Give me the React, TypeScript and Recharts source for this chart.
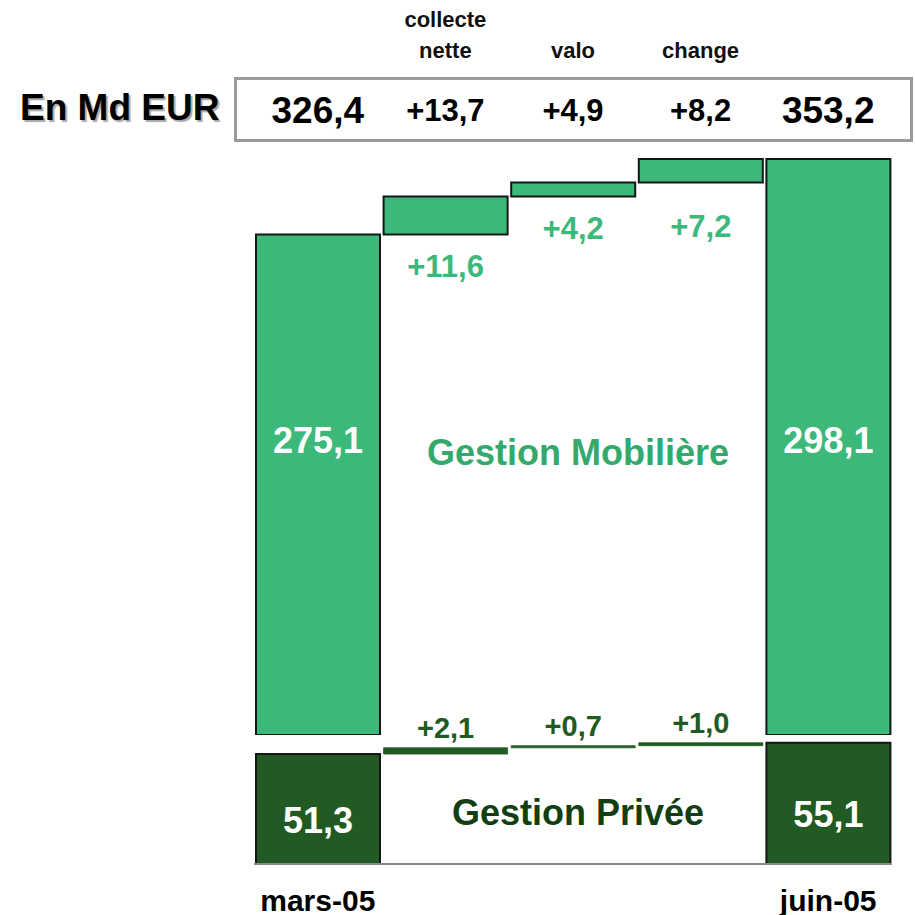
import React from 'react';
import { BarChart, Bar, XAxis, YAxis, Cell, LabelList } from 'recharts';

const categories = ['mars-05', 'collecte nette', 'valo', 'change', 'juin-05'];
const columnTitles = [[], ['collecte', 'nette'], ['valo'], ['change'], []];
const totalRow = [326.4, 13.7, 4.9, 8.2, 353.2];
const mobiliere = [275.1, 11.6, 4.2, 7.2, 298.1];
const privee = [51.3, 2.1, 0.7, 1.0, 55.1];
const isTotal = [true, false, false, false, true];

const LIGHT = '#3cb97a';
const DARK = '#215a22';
const EDGE = '#161616';
const FONT = '"Liberation Sans", Arial, sans-serif';

const fmt = (v: number, signed: boolean) => (signed ? '+' : '') + v.toFixed(1).replace('.', ',');

// waterfall: totals stand on the axis break, deltas float on the running sum
const waterfall = (values: number[]) => {
  let run = 0;
  return values.map((v, i) => {
    if (isTotal[i]) {
      run = v;
      return v;
    }
    const range = [run, run + v];
    run += v;
    return range;
  });
};

const gmBars = waterfall(mobiliere);
const gpBars = waterfall(privee);
const data = categories.map((name, i) => ({ name, gm: gmBars[i], gp: gpBars[i] }));

const box = (p: any) => {
  const vb = p.viewBox ?? p;
  return { x: vb.x, y: vb.y, w: vb.width, h: vb.height };
};

const HeaderTick = (props: any) => {
  const { x, y, index } = props;
  const titles = columnTitles[index];
  const total = isTotal[index];
  return (
    <g fontFamily={FONT} fontWeight="bold" textAnchor="middle">
      {titles.map((t, k) => (
        <text key={t} x={x} y={y - 102 - (titles.length - 1 - k) * 31} dominantBaseline="central" fontSize={22} fill="#111">
          {t}
        </text>
      ))}
      <text x={x} y={y - 42} dominantBaseline="central" fontSize={total ? 37 : 31} fill="#000">
        {fmt(totalRow[index], !total)}
      </text>
    </g>
  );
};

const DateTick = (props: any) => {
  const { x, y, index } = props;
  if (!isTotal[index]) return <g />;
  return (
    <text x={x} y={y + 36} textAnchor="middle" dominantBaseline="central" fontFamily={FONT} fontWeight="bold" fontSize={30} fill="#000">
      {categories[index]}
    </text>
  );
};

const gmLabel = (props: any) => {
  const { x, y, w, h } = box(props);
  const i = props.index;
  const cx = x + w / 2;
  const bottom = y + h;
  if (isTotal[i]) {
    return (
      <text x={cx} y={bottom - 295} textAnchor="middle" dominantBaseline="central" fontFamily={FONT} fontWeight="bold" fontSize={36} fill="#fff">
        {fmt(mobiliere[i], false)}
      </text>
    );
  }
  return (
    <text x={cx} y={Math.max(bottom + 32, 226)} textAnchor="middle" dominantBaseline="central" fontFamily={FONT} fontWeight="bold" fontSize={31} fill={LIGHT}>
      {fmt(mobiliere[i], true)}
    </text>
  );
};

const gpLabel = (props: any) => {
  const { x, y, w, h } = box(props);
  const i = props.index;
  const cx = x + w / 2;
  if (isTotal[i]) {
    return (
      <text x={cx} y={y + h / 2 + 11} textAnchor="middle" dominantBaseline="central" fontFamily={FONT} fontWeight="bold" fontSize={36} fill="#fff">
        {fmt(privee[i], false)}
      </text>
    );
  }
  return (
    <text x={cx} y={y - 20} textAnchor="middle" dominantBaseline="central" fontFamily={FONT} fontWeight="bold" fontSize={29} fill={DARK}>
      {fmt(privee[i], true)}
    </text>
  );
};

const seriesName = (text: string, color: string, cy: number) => (
  <div
    style={{
      position: 'absolute',
      left: 378,
      top: cy - 22,
      width: 400,
      lineHeight: '44px',
      textAlign: 'center',
      fontSize: 36,
      fontWeight: 'bold',
      color,
    }}
  >
    {text}
  </div>
);

export default function App() {
  return (
    <div style={{ position: 'absolute', left: 0, top: 0, width: 915, height: 915, background: '#fff', fontFamily: FONT }}>
      <div
        style={{
          position: 'absolute',
          left: 234,
          top: 77,
          width: 679,
          height: 65,
          border: '3px solid #9a9a9a',
          boxSizing: 'border-box',
        }}
      />
      <div
        style={{
          position: 'absolute',
          left: 20,
          top: 86,
          lineHeight: '44px',
          fontSize: 37,
          fontWeight: 'bold',
          color: '#000',
          textShadow: '2px 2px 1px #a8a8a8',
          whiteSpace: 'nowrap',
        }}
      >
        En Md EUR
      </div>

      <div style={{ position: 'absolute', left: 0, top: 0 }}>
        <BarChart width={915} height={735} data={data} margin={{ top: 2, right: 23, left: 254, bottom: 0 }} barSize={124}>
          <XAxis
            dataKey="name"
            orientation="top"
            height={150}
            axisLine={false}
            tickLine={false}
            tickSize={0}
            tickMargin={0}
            interval={0}
            tick={<HeaderTick />}
          />
          <YAxis hide domain={[123, 300.2]} allowDataOverflow />
          <Bar dataKey="gm" isAnimationActive={false} fill={LIGHT} stroke={EDGE} strokeWidth={2}>
            <LabelList dataKey="gm" content={gmLabel} />
          </Bar>
        </BarChart>
      </div>

      <div style={{ position: 'absolute', left: 0, top: 690 }}>
        <BarChart width={915} height={225} data={data} margin={{ top: 48, right: 23, left: 254, bottom: 0 }} barSize={124}>
          <XAxis
            dataKey="name"
            height={51}
            axisLine={{ stroke: '#8a8a8a', strokeWidth: 2 }}
            tickLine={false}
            tickSize={0}
            tickMargin={0}
            interval={0}
            tick={<DateTick />}
          />
          <YAxis hide domain={[14.3, 56.7]} allowDataOverflow />
          <Bar dataKey="gp" isAnimationActive={false} fill={DARK}>
            {data.map((d, i) => (
              <Cell key={d.name} stroke={isTotal[i] ? EDGE : DARK} strokeWidth={isTotal[i] ? 2 : 0.8} />
            ))}
            <LabelList dataKey="gp" content={gpLabel} />
          </Bar>
        </BarChart>
      </div>

      {seriesName('Gestion Mobilière', '#34a96c', 453)}
      {seriesName('Gestion Privée', '#123f12', 813)}
    </div>
  );
}
